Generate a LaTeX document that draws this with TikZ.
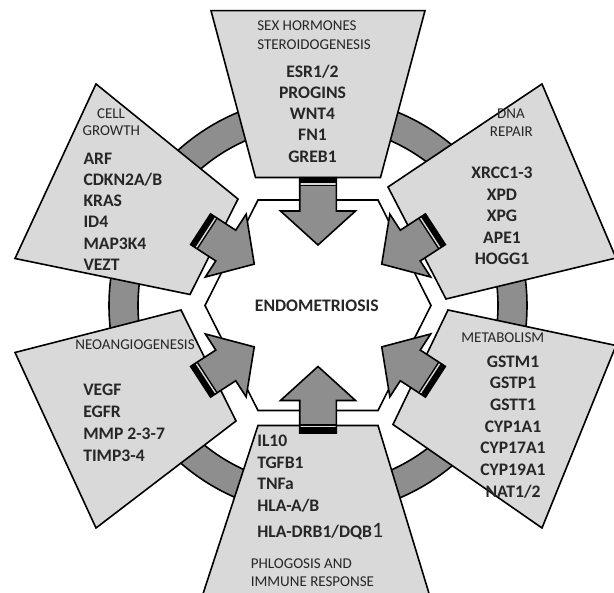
\documentclass[tikz,border=0pt]{standalone}
\usepackage{fontspec}
\setmainfont{Carlito}
\definecolor{boxgray}{HTML}{D9D9D9}
\definecolor{midgray}{HTML}{8E8E8E}
\definecolor{txt}{HTML}{262626}
\newcommand{\inArrow}[3]{%
  \begin{scope}[shift={(318,287.5)}, rotate=#1]
    \pgfmathsetmacro\arrh{#3+34}
    \fill[midgray] (#2,18.3) -- (\arrh,18.3) -- (\arrh,37.5) -- (#3,0) -- (\arrh,-37.5) -- (\arrh,-18.3) -- (#2,-18.3) -- cycle;
    \fill[black] (#2-8.5,-18.3) rectangle (#2,18.3);
    \fill[boxgray] (#2-7,-18.3) rectangle (#2-5.6,18.3);
    \draw (#2,18.3) -- (\arrh,18.3) -- (\arrh,37.5) -- (#3,0) -- (\arrh,-37.5) -- (\arrh,-18.3) -- (#2,-18.3) -- cycle;
  \end{scope}}
\begin{document}
\begin{tikzpicture}[x=1pt,y=1pt, line width=1.6pt, line join=miter,
  boxshape/.style={fill=boxgray, draw=black},
  gene/.style={font=\fontsize{17.6}{20}\selectfont\bfseries, text=txt, inner sep=0pt},
  cat/.style={font=\fontsize{15}{17}\selectfont, text=txt, inner sep=0pt}]
\useasboundingbox (0,0) rectangle (614,593);
\clip (0,0) rectangle (614,593);
\coordinate (C) at (318,287.5);
% ring
\fill[midgray, even odd rule] (C) circle[radius=209pt] (C) circle[radius=180pt];
\draw (C) circle[radius=209pt];
\draw (C) circle[radius=180pt];
% central hexagon
\draw[fill=white] (205,287.5) -- (258,393) -- (378,393) -- (431,287.5) -- (378,182.5) -- (258,182.5) -- cycle;
% boxes
\draw[boxshape] (211,582.4) -- (425,582.4) -- (380.5,415.5) -- (255.5,415.5) -- cycle;
\draw[boxshape] (258,167.5) -- (378,167.5) -- (431,-7) -- (201,-7) -- cycle;
\draw[boxshape] (96,509) -- (15,334.5) -- (190,298.5) -- (238,394) -- cycle;
\draw[boxshape] (542,509) -- (616,335) -- (446,294) -- (388,406) -- cycle;
\draw[boxshape] (448,283) -- (616,247.5) -- (542,65) -- (393,168.5) -- cycle;
\draw[boxshape] (181,283) -- (15,240.5) -- (96,65) -- (236,172) -- cycle;
% arrows
\inArrow{90}{127.7}{60.5}
\inArrow{-90}{127.5}{61}
\inArrow{147}{140}{76}
\inArrow{33}{140}{76}
\inArrow{-33}{140}{76}
\inArrow{-147}{140}{76}
% center
\node[gene, anchor=base] (endo) at (316.8,281.4) {ENDOMETRIOSIS};
% top
\node[cat, anchor=base west] (sh1) at (256.5,562.55) {SEX HORMONES};
\node[cat, anchor=base west] (sh2) at (256.5,543.75) {STEROIDOGENESIS};
\foreach \t [count=\i from 0] in {ESR1/2,PROGINS,WNT4,FN1,GREB1}
  \node[gene, anchor=base] (tg\i) at (312.5,{515.6-21.2*\i}) {\t};
% cell growth
\node[cat, anchor=base] (cg1) at (111,474.95) {CELL};
\node[cat, anchor=base] (cg2) at (111.3,457.25) {GROWTH};
\foreach \t [count=\i from 0] in {ARF,CDKN2A/B,KRAS,ID4,MAP3K4,VEZT}
  \node[gene, anchor=base west] (cgg\i) at (82.7,{428.9-21.3*\i}) {\t};
% dna repair
\node[cat, anchor=base] (dr1) at (511,474.95) {DNA};
\node[cat, anchor=base] (dr2) at (511.3,456.55) {REPAIR};
\foreach \t [count=\i from 0] in {XRCC1-3,XPD,XPG,APE1,HOGG1}
  \node[gene, anchor=base] (drg\i) at (502,{414.4-21.5*\i}) {\t};
% metabolism
\node[cat, anchor=base] (me1) at (502.8,250.25) {METABOLISM};
\foreach \t [count=\i from 0] in {GSTM1,GSTP1,GSTT1,CYP1A1,CYP17A1,CYP19A1,NAT1/2}
  \node[gene, anchor=base] (meg\i) at (513,{225.9-21.7*\i}) {\t};
% neoangiogenesis
\node[cat, anchor=base] (na1) at (135,243.25) {NEOANGIOGENESIS};
\foreach \t [count=\i from 0] in {VEGF,EGFR,MMP 2-3-7,TIMP3-4}
  \node[gene, anchor=base west] (nag\i) at (82.5,{197.2-21.8*\i}) {\t};
% phlogosis
\node[gene, anchor=base west] (pg0) at (256.5,146.6) {IL10};
\node[gene, anchor=base west] (pg1) at (256.5,124.9) {TGFB1};
\node[gene, anchor=base west] (pg2) at (256.5,103.1) {TNFa};
\node[gene, anchor=base west] (pg3) at (256.5,81.4) {HLA-A/B};
\node[gene, anchor=base west] (pg4) at (256.5,55.9) {HLA-DRB1/DQB{\normalfont\fontsize{22}{24}\selectfont 1}};
\node[cat, anchor=base west] (ph1) at (250,24.85) {PHLOGOSIS AND};
\node[cat, anchor=base west] (ph2) at (250,6.55) {IMMUNE RESPONSE};
\end{tikzpicture}
\end{document}
